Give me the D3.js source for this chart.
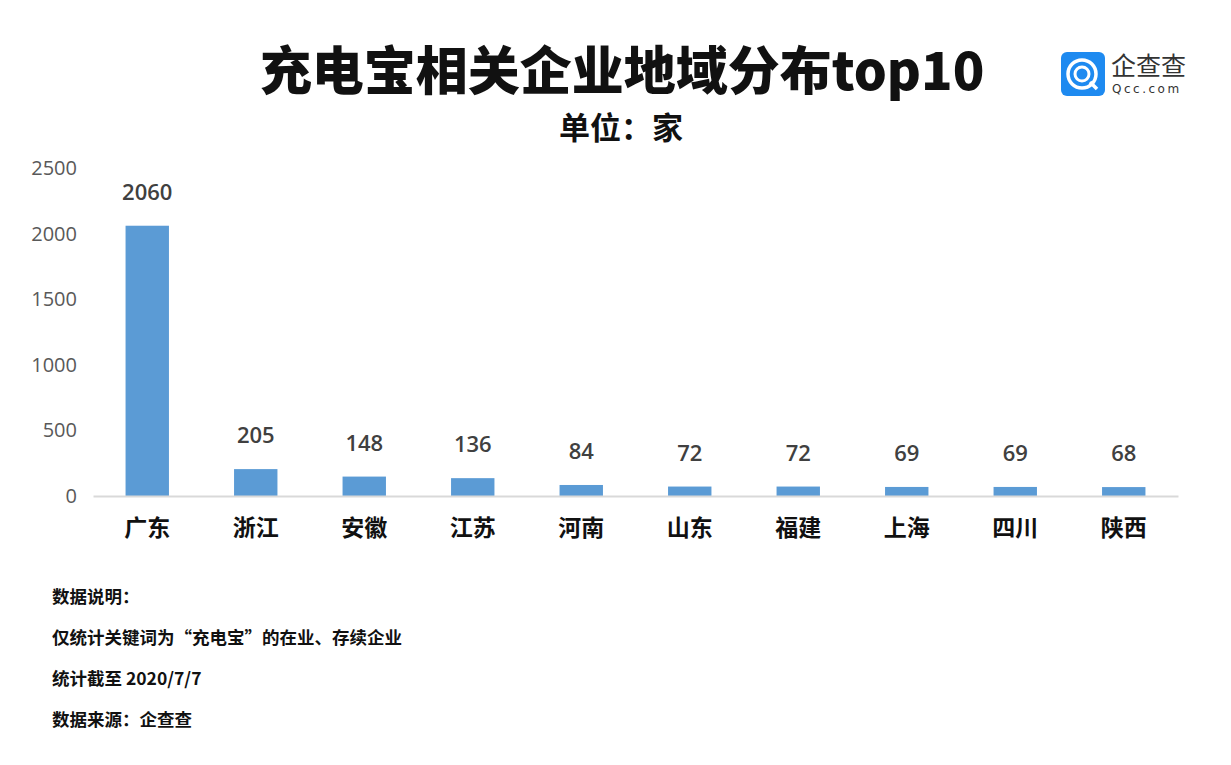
<!DOCTYPE html>
<html><head><meta charset="utf-8">
<script src="https://cdn.jsdelivr.net/npm/d3@7"></script>
<style>body{margin:0;background:#fff;font-family:"Noto Sans CJK SC","Noto Sans",sans-serif}</style>
</head><body><svg id="c" width="1231" height="765"></svg>
<script>
const categories=["广东","浙江","安徽","江苏","河南","山东","福建","上海","四川","陕西"];
const values=[2060,205,148,136,84,72,72,69,69,68];
const yTicks=[0,500,1000,1500,2000,2500];
const notes=["数据说明：","仅统计关键词为“充电宝”的在业、存续企业","统计截至 2020/7/7","数据来源：企查查"];
const svg=d3.select("#c");
const F='"Noto Sans CJK SC",sans-serif';
svg.append("text").attr("x",622).attr("y",90).attr("text-anchor","middle").attr("font-family",F).attr("font-weight",900).attr("font-size",52).attr("fill","#111").text("充电宝相关企业地域分布top10");
svg.append("text").attr("x",621).attr("y",139).attr("text-anchor","middle").attr("font-family",F).attr("font-weight",700).attr("font-size",31).attr("fill","#111").text("单位：家");
// logo
const lg=svg.append("g");
lg.append("rect").attr("x",1061).attr("y",52).attr("width",44).attr("height",44).attr("rx",6).attr("fill","#1e8af0");
lg.append("circle").attr("cx",1082).attr("cy",74).attr("r",14).attr("fill","none").attr("stroke","#fff").attr("stroke-width",3.5);
lg.append("circle").attr("cx",1082).attr("cy",74).attr("r",7).attr("fill","none").attr("stroke","#fff").attr("stroke-width",3);
lg.append("line").attr("x1",1090).attr("y1",82).attr("x2",1097).attr("y2",89).attr("stroke","#fff").attr("stroke-width",3.5);
lg.append("text").attr("x",1111).attr("y",75).attr("font-family",F).attr("font-size",25).attr("fill","#333").text("企查查");
lg.append("text").attr("x",1112).attr("y",93).attr("font-family","DejaVu Sans").attr("font-size",12).attr("letter-spacing",2.5).attr("fill","#333").text("Qcc.com");
const x=d3.scaleBand().domain(categories).range([93,1178]).paddingInner(0.6).paddingOuter(0.3);
const y=d3.scaleLinear().domain([0,2500]).range([496,168]);
const ya=svg.append("g").attr("transform","translate(80,0)").call(d3.axisLeft(y).tickValues(yTicks).tickFormat(d3.format("d")).tickSize(0).tickPadding(3));
ya.select(".domain").remove();
ya.selectAll("text").attr("font-family","Open Sans, sans-serif").attr("font-size",20).attr("fill","#595959");
svg.selectAll(".bar").data(values).join("rect").attr("x",(d,i)=>x(categories[i])).attr("width",x.bandwidth()).attr("y",d=>y(d)).attr("height",d=>y(0)-y(d)).attr("fill","#5b9bd5");
const xa=svg.append("g").attr("transform","translate(0,496)").call(d3.axisBottom(x).tickSize(0).tickPadding(24));
xa.select(".domain").attr("stroke","#d9d9d9").attr("stroke-width",2);
xa.selectAll("text").attr("font-family",F).attr("font-weight",700).attr("font-size",23).attr("fill","#111");
svg.selectAll(".lbl").data(values).join("text").attr("x",(d,i)=>x(categories[i])+x.bandwidth()/2).attr("y",d=>y(d)-26).attr("text-anchor","middle").attr("font-family","Open Sans, sans-serif").attr("font-weight",600).attr("font-size",22).attr("fill","#404040").text(d=>d);
svg.selectAll(".note").data(notes).join("text").attr("x",52).attr("y",(d,i)=>603+i*41).attr("font-family",F).attr("font-weight",700).attr("font-size",17.5).attr("fill","#111").text(d=>d);
</script></body></html>
